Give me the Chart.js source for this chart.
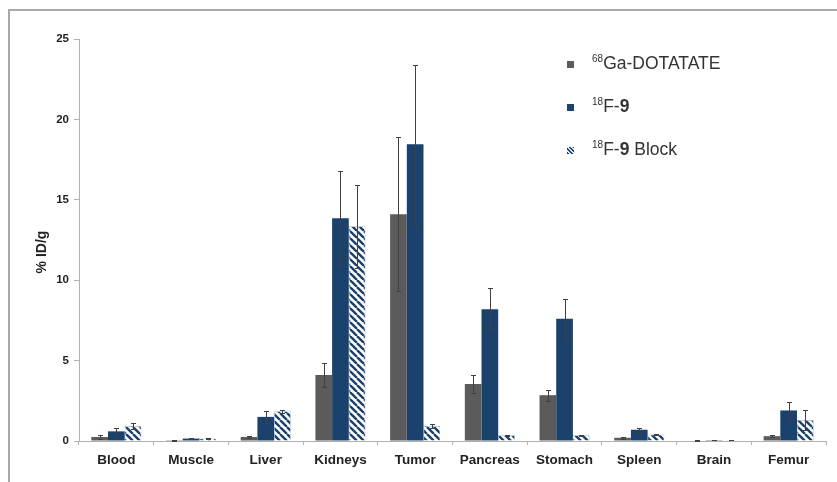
<!DOCTYPE html>
<html>
<head>
<meta charset="utf-8">
<script src="https://cdn.jsdelivr.net/npm/chart.js@4.4.1/dist/chart.umd.min.js"></script>
<style>
  html, body { margin: 0; padding: 0; background: #fff; }
  #wrap { position: relative; width: 837px; height: 482px; overflow: hidden; }
  #frame { position: absolute; left: 8px; top: 9px; right: -4px; bottom: -4px;
           border-top: 2px solid #a9a9a9; border-left: 2px solid #a9a9a9; pointer-events: none; }
  #legend { position: absolute; left: 567px; top: 52px; font-family: "Liberation Sans", Arial, sans-serif;
            font-size: 17.5px; color: #333; }
  #legend .item { display: flex; align-items: center; height: 22px; margin-bottom: 21px; }
  #legend .sw { width: 7px; height: 7px; margin-right: 18px; margin-top: 2px; }
  #legend sup { font-size: 10px; vertical-align: 7px; line-height: 0; }
</style>
</head>
<body>
<div id="wrap">
  <canvas id="c" width="837" height="482"></canvas>
  <div id="frame"></div>
  <div id="legend">
    <div class="item"><span class="sw" style="background:#5b5b5b"></span><span><sup>68</sup>Ga-DOTATATE</span></div>
    <div class="item"><span class="sw" style="background:#1b416d"></span><span><sup>18</sup>F-<b>9</b></span></div>
    <div class="item"><span class="sw" style="background:repeating-linear-gradient(45deg,#1b416d 0 1.5px,#dfe6ef 1.5px 3px)"></span><span><sup>18</sup>F-<b>9</b> Block</span></div>
  </div>
</div>
<script>
// Biodistribution (% ID/g) per organ, mean and standard deviation
const organs = ['Blood', 'Muscle', 'Liver', 'Kidneys', 'Tumor', 'Pancreas', 'Stomach', 'Spleen', 'Brain', 'Femur'];
const gaDotatate   = [0.25, 0.05, 0.25, 4.1, 14.1, 3.55, 2.85, 0.2, 0.03, 0.3];
const gaDotatateSd = [0.1, 0.02, 0.05, 0.75, 4.8, 0.55, 0.35, 0.05, 0.01, 0.05];
const f9           = [0.6, 0.15, 1.5, 13.85, 18.45, 8.2, 7.6, 0.7, 0.05, 1.9];
const f9Sd         = [0.2, 0.05, 0.35, 2.95, 4.95, 1.3, 1.25, 0.12, 0.01, 0.55];
const f9Block      = [0.93, 0.15, 1.85, 13.35, 0.93, 0.35, 0.35, 0.4, 0.05, 1.3];
const f9BlockSd    = [0.17, 0.03, 0.1, 2.6, 0.15, 0.04, 0.04, 0.05, 0.01, 0.6];
const yTicks = [0, 5, 10, 15, 20, 25];
const yTitle = '% ID/g';

const NAVY = '#1b416d';
const GRAY = '#5b5b5b';
const FONT = 'Liberation Sans';

// diagonal hatch fill for the blocking study bars
function hatch() {
  const s = 7;
  const p = document.createElement('canvas');
  p.width = s; p.height = s;
  const g = p.getContext('2d');
  g.fillStyle = '#ffffff';
  g.fillRect(0, 0, s, s);
  g.strokeStyle = NAVY;
  g.lineWidth = 2.4;
  g.beginPath();
  for (let k = -1; k <= 1; k++) {
    g.moveTo(k * s, 0);
    g.lineTo(k * s + s, s);
  }
  g.stroke();
  return g.createPattern(p, 'repeat');
}

// error bars drawn from each dataset's sd array
const errorBars = {
  id: 'errorBars',
  afterDatasetsDraw(chart) {
    const ctx = chart.ctx;
    const y = chart.scales.y;
    chart.data.datasets.forEach((ds, i) => {
      const meta = chart.getDatasetMeta(i);
      meta.data.forEach((bar, j) => {
        const v = ds.data[j], e = ds.sd[j];
        const top = Math.round(y.getPixelForValue(v + e));
        const bot = Math.round(y.getPixelForValue(Math.max(0, v - e)));
        const x = Math.round(bar.x);
        ctx.save();
        ctx.strokeStyle = '#404040';
        ctx.lineWidth = 1;
        ctx.beginPath();
        ctx.moveTo(x + 0.5, top);
        ctx.lineTo(x + 0.5, bot);
        ctx.moveTo(x - 2, top + 0.5);
        ctx.lineTo(x + 3, top + 0.5);
        ctx.moveTo(x - 2, bot + 0.5);
        ctx.lineTo(x + 3, bot + 0.5);
        ctx.stroke();
        ctx.restore();
      });
    });
  }
};

// rotated y-axis title, set a little below the middle of the axis
const axisTitle = {
  id: 'axisTitle',
  afterDraw(chart) {
    const { ctx, chartArea } = chart;
    ctx.save();
    ctx.translate(42, (chartArea.top + chartArea.bottom) / 2 + 12);
    ctx.rotate(-Math.PI / 2);
    ctx.font = 'bold 14px "' + FONT + '"';
    ctx.fillStyle = '#222';
    ctx.textAlign = 'center';
    ctx.textBaseline = 'middle';
    ctx.fillText(yTitle, 0, 0);
    ctx.restore();
  }
};

new Chart(document.getElementById('c'), {
  type: 'bar',
  data: {
    labels: organs,
    datasets: [
      { label: '68Ga-DOTATATE', data: gaDotatate, sd: gaDotatateSd, backgroundColor: GRAY },
      { label: '18F-9', data: f9, sd: f9Sd, backgroundColor: NAVY },
      { label: '18F-9 Block', data: f9Block, sd: f9BlockSd, backgroundColor: hatch(),
        borderColor: '#9fb0c6', borderWidth: 0.6 }
    ]
  },
  options: {
    responsive: false,
    animation: false,
    events: [],
    layout: { padding: { top: 39, right: 11, left: 0, bottom: 0 } },
    datasets: { bar: { categoryPercentage: 0.67, barPercentage: 1.0 } },
    plugins: { legend: { display: false }, tooltip: { enabled: false } },
    scales: {
      x: {
        offset: true,
        grid: { display: true, drawOnChartArea: false, offset: true, color: '#b0b0b0', tickLength: 4 },
        border: { color: '#b0b0b0', width: 1 },
        ticks: { color: '#222', padding: 7, font: { family: FONT, size: 13.5, weight: 'bold' }, maxRotation: 0 },
        afterFit(s) { s.height = 41; }
      },
      y: {
        min: 0, max: 25,
        afterBuildTicks(s) { s.ticks = yTicks.map(v => ({ value: v })); },
        grid: { display: true, drawOnChartArea: false, color: '#b0b0b0', tickLength: 5 },
        border: { color: '#b0b0b0', width: 1 },
        ticks: { color: '#222', padding: 5, font: { family: FONT, size: 11.5, weight: 'bold' } },
        afterFit(s) { s.width = 79; }
      }
    }
  },
  plugins: [errorBars, axisTitle]
});
</script>
</body>
</html>
